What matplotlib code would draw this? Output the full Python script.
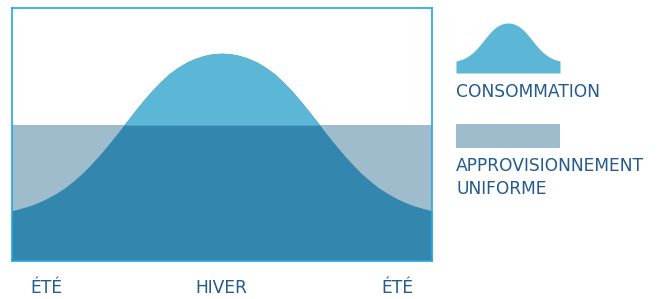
import matplotlib.pyplot as plt
import numpy as np

# months across the year (summer - winter - summer)
months = [0, 0.25, 0.5, 0.75, 1, 1.25, 1.5, 1.75, 2, 2.25, 2.5, 2.75,
          3, 3.25, 3.5, 3.75, 4, 4.25, 4.5, 4.75, 5, 5.25, 5.5, 5.75,
          6, 6.25, 6.5, 6.75, 7, 7.25, 7.5, 7.75, 8, 8.25, 8.5, 8.75,
          9, 9.25, 9.5, 9.75, 10, 10.25, 10.5, 10.75, 11, 11.25, 11.5, 11.75, 12]
consumption = [19.7, 20.6, 21.6, 22.9, 24.5, 26.4, 28.6, 31.3, 34.3, 37.8, 41.6, 45.7,
               50.0, 54.5, 58.9, 63.2, 67.2, 70.8, 74.0, 76.5, 78.6, 80.1, 81.2, 81.9,
               82.1, 81.9, 81.2, 80.1, 78.6, 76.5, 74.0, 70.8, 67.2, 63.2, 58.9, 54.5,
               50.0, 45.7, 41.6, 37.8, 34.3, 31.3, 28.6, 26.4, 24.5, 22.9, 21.6, 20.6, 19.7]
supply = 53.6
season_ticks = [1, 6, 11]
season_labels = ['ÉTÉ', 'HIVER', 'ÉTÉ']

C_CONSO = '#5bb7d5'
C_SUPPLY = '#9ebccc'
C_OVER = '#3386ae'
C_EDGE = '#22a8e0'
C_TEXT = '#235b8f'
FONT = 'DejaVu Sans'
FS = 12.3

W, H = 662, 299


def px_axes(fig, x0, y0, x1, y1):
    # pixel box (top-left origin) -> figure axes
    return fig.add_axes([x0 / W, 1 - y1 / H, (x1 - x0) / W, (y1 - y0) / H])


fig = plt.figure(figsize=(W / 100, H / 100), dpi=100)

ax = px_axes(fig, 11.5, 8, 432, 260.5)
x = np.array(months)
c = np.array(consumption)
ax.fill_between(x, 0, supply, color=C_SUPPLY, lw=0)
ax.fill_between(x, 0, c, color=C_OVER, lw=0)
ax.fill_between(x, supply, c, where=c > supply, interpolate=True, color=C_CONSO, lw=0)
ax.set_xlim(0, 12)
ax.set_ylim(0, 100)
ax.set_yticks([])
ax.set_xticks(season_ticks)
ax.set_xticklabels(season_labels, family=FONT, fontsize=FS, color=C_TEXT)
ax.tick_params(axis='x', length=0, pad=13.5)
for s in ax.spines.values():
    s.set_color(C_EDGE)
    s.set_linewidth(1.2)

# legend: small bell icon
icon = px_axes(fig, 456, 23, 560, 73)
icon.fill_between(x, 0, c, color=C_CONSO, lw=0)
icon.set_xlim(0, 12)
icon.set_ylim(0, max(consumption))
icon.axis('off')

bar = px_axes(fig, 456, 124, 560, 148)
bar.set_facecolor(C_SUPPLY)
bar.set_xticks([])
bar.set_yticks([])
for s in bar.spines.values():
    s.set_visible(False)

fig.text(456 / W, 1 - 96.7 / H, 'CONSOMMATION', family=FONT, fontsize=FS,
         color=C_TEXT, va='baseline', ha='left')
fig.text(456 / W, 1 - 170.7 / H, 'APPROVISIONNEMENT', family=FONT, fontsize=FS,
         color=C_TEXT, va='baseline', ha='left')
fig.text(456 / W, 1 - 194 / H, 'UNIFORME', family=FONT, fontsize=FS,
         color=C_TEXT, va='baseline', ha='left')

fig.savefig('out.png', dpi=100)
